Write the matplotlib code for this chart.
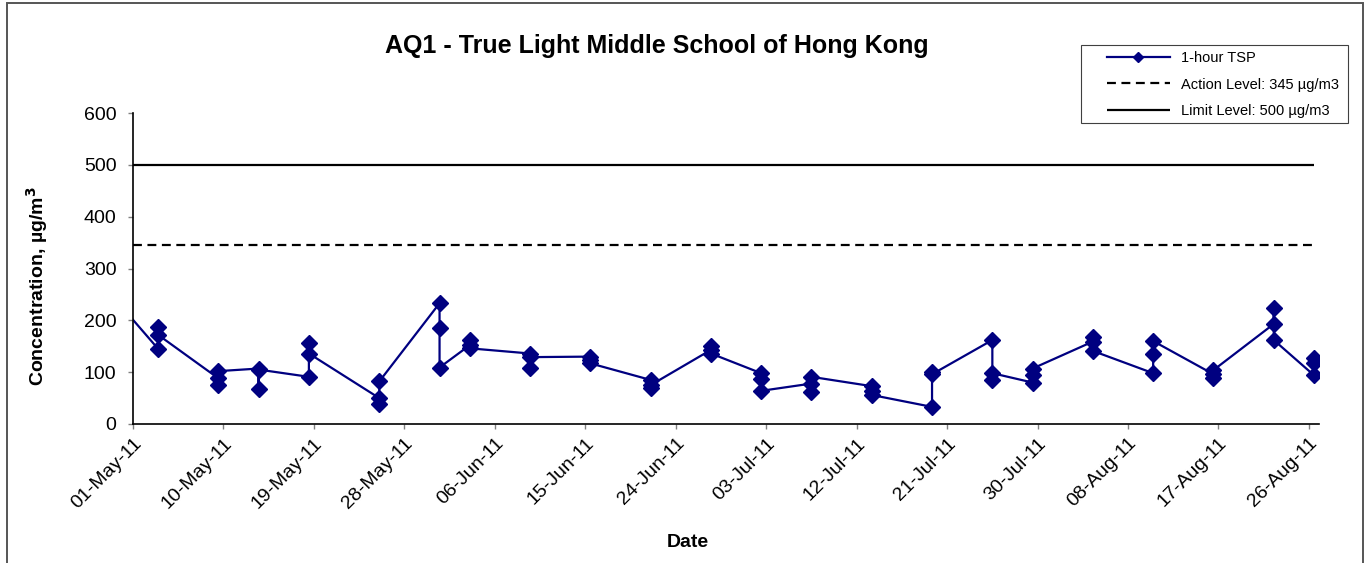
import numpy as np
import pandas as pd
import matplotlib
matplotlib.use("Agg")
import matplotlib.pyplot as plt
import matplotlib.dates as mdates
from matplotlib.patches import Rectangle

plt.rcParams['font.family'] = ['Liberation Sans', 'DejaVu Sans']

# sampling days, three 1-hour TSP readings on each day (in logging order)
sample_dates = ['2011-04-28', '2011-05-03', '2011-05-09', '2011-05-13', '2011-05-18',
                '2011-05-25', '2011-05-31', '2011-06-03', '2011-06-09', '2011-06-15',
                '2011-06-21', '2011-06-27', '2011-07-02', '2011-07-07', '2011-07-13',
                '2011-07-19', '2011-07-25', '2011-07-29', '2011-08-04', '2011-08-10',
                '2011-08-16', '2011-08-22', '2011-08-26']
tsp_values = [[257],
              [145, 187, 172], [88, 75, 102], [107, 68, 105], [91, 157, 136],
              [50, 38, 82], [233, 185, 109], [152, 162, 146], [136, 109, 129],
              [130, 123, 117], [85, 69, 75], [143, 150, 136], [98, 87, 64],
              [78, 62, 91], [73, 64, 56], [33, 100, 96], [162, 85, 98],
              [80, 94, 107], [159, 168, 141], [98, 136, 160], [96, 88, 104],
              [193, 223, 162], [94, 117, 127]]
action_level = 345
limit_level = 500

tick_start = '2011-05-01'
tick_end = '2011-08-26'
tick_step_days = 9

#------------------------------------------
# expand the day groups into one series (Excel puts points mid-day)
x_pts = []
y_pts = []
for d, vals in zip(sample_dates, tsp_values):
    for v in vals:
        x_pts.append(pd.Timestamp(d) + pd.Timedelta(hours=12))
        y_pts.append(v)

x_min = pd.Timestamp(tick_start)
x_max = pd.Timestamp(tick_end) + pd.Timedelta(days=1)
line_end = pd.Timestamp(sample_dates[-1]) + pd.Timedelta(hours=12)

W, H = 1366, 563
fig = plt.figure(figsize=(W/100, H/100), dpi=100)
ax = fig.add_axes([133/W, 1 - 424/H, (1319 - 133)/W, (424 - 113)/H])

ax.hlines(limit_level, x_min, line_end, colors='black', lw=1.6,
          label='Limit Level: 500 µg/m3')
ax.hlines(action_level, x_min, line_end, colors='black', lw=1.6,
          linestyles=(0, (4, 2.5)), label='Action Level: 345 µg/m3')
ax.plot(x_pts, y_pts, color='#000080', lw=1.6, marker='D', ms=8,
        mfc='#000080', mec='#000080', label='1-hour TSP')

ax.set_xlim(x_min, x_max)
ax.set_ylim(0, 600)
ax.set_yticks(np.arange(0, 601, 100))
ticks = pd.date_range(tick_start, tick_end, freq=f'{tick_step_days}D')
ax.set_xticks(ticks)
ax.xaxis.set_major_formatter(mdates.DateFormatter('%d-%b-%y'))

for s in ['top', 'right']:
    ax.spines[s].set_visible(False)
for s in ['left', 'bottom']:
    ax.spines[s].set_color('black')
    ax.spines[s].set_linewidth(1.2)
ax.tick_params(direction='out', length=3.8, width=1, color='#808080',
               labelsize=14)
ax.tick_params(axis='y', pad=8)
ax.tick_params(axis='x', pad=4)
plt.setp(ax.get_xticklabels(), rotation=45, ha='right', va='top',
         rotation_mode='anchor')

ax.set_ylabel('Concentration, µg/m$^\\mathbf{3}$', fontsize=14, fontweight='bold')
ax.yaxis.set_label_coords((50 - 133)/1186, (424 - 286)/311)
ax.set_xlabel('Date', fontsize=14, fontweight='bold')
ax.xaxis.set_label_coords((688 - 133)/1186, -(534 - 424)/311)

fig.text(657/W, 1 - 46/H, 'AQ1 - True Light Middle School of Hong Kong',
         ha='center', va='center', fontsize=18, fontweight='bold')

# legend in the order Excel shows it, frame drawn separately
h, l = ax.get_legend_handles_labels()
order = [2, 1, 0]
leg = fig.legend([h[i] for i in order], [l[i] for i in order],
                 loc='upper left', bbox_to_anchor=(1107/W, 1 - 51/H),
                 fontsize=10.5, frameon=False, handlelength=4.3,
                 labelspacing=0.86, borderpad=0, borderaxespad=0,
                 handletextpad=0.8, markerscale=0.7)
fig.patches.append(Rectangle((1081/W, 1 - 123/H), (1348 - 1081)/W, 78/H,
                             transform=fig.transFigure, fill=False,
                             edgecolor='#404040', lw=0.8))

# chart area border
fig.patches.append(Rectangle((7/W, -0.1), (1363 - 7)/W, 1.1 - 3/H,
                             transform=fig.transFigure, fill=False,
                             edgecolor='#555555', lw=1.4))

fig.savefig('out.png', dpi=100)
